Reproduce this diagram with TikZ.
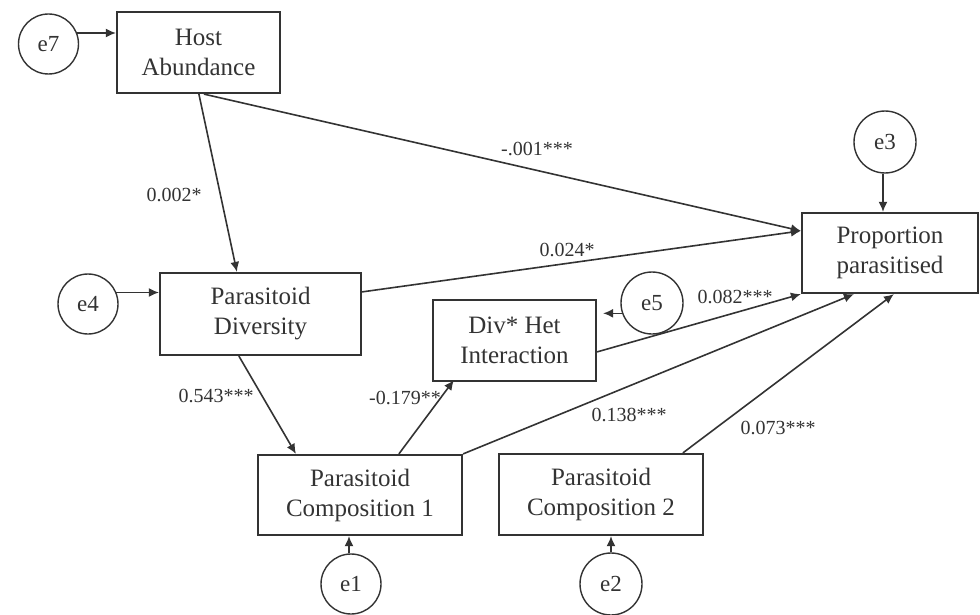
\documentclass[tikz,border=0pt]{standalone}
\usepackage{fontspec}
\setmainfont{Liberation Serif}
\usetikzlibrary{arrows.meta,calc}
\definecolor{ink}{HTML}{333333}
\begin{document}
\begin{tikzpicture}[x=1pt,y=-1pt,
  box/.style={draw=ink,line width=2.2pt,rectangle,align=center,inner sep=0pt,
    font=\fontsize{25}{30}\selectfont,text=ink},
  err/.style={draw=ink,line width=1.4pt,circle,minimum size=60pt,inner sep=0pt,
    font=\fontsize{23}{26}\selectfont,text=ink},
  arr/.style={draw=ink,line width=1.6pt,-{Latex[length=10pt,width=9pt]}},
  lab/.style={font=\fontsize{20}{23}\selectfont,text=ink,inner sep=0pt}]
\useasboundingbox (0,0) rectangle (980,615);
% boxes
\node[box,minimum width=163pt,minimum height=81pt] (host) at (198.5,52.5) {Host\\Abundance};
\node[box,minimum width=201pt,minimum height=82pt] (div) at (260.5,314) {Parasitoid\\Diversity};
\node[box,minimum width=163pt,minimum height=81pt] (divhet) at (514.5,340.5) {Div* Het\\Interaction};
\node[box,minimum width=176pt,minimum height=80pt] (prop) at (890,253) {Proportion\\parasitised};
\node[box,minimum width=204pt,minimum height=80pt] (comp1) at (360,495) {Parasitoid\\Composition 1};
\node[box,minimum width=204pt,minimum height=81pt] (comp2) at (601,494.5) {Parasitoid\\Composition 2};
% error terms
\node[err] (e7) at (48.5,44) {e7};
\node[err] (e4) at (88,304) {e4};
\node[err,minimum size=62pt] (e5) at (652,303) {e5};
\node[err,minimum size=62pt] (e3) at (885,142) {e3};
\node[err] (e1) at (351,584) {e1};
\node[err,minimum size=62pt] (e2) at (611,584) {e2};
% error arrows
\draw[arr] (e7.21) -- (e7.21 -| host.west);
\draw[arr] (e4.22) -- (e4.22 -| div.west);
\draw[arr] (e5.199) -- ($(e5.199 -| divhet.east)+(6,0)$);
\draw[arr] ($(e3.south)+(-2,0)$) -- ($(e3.south |- prop.north)+(-2,0)$);
\draw[arr] ($(e1.north)+(-2,0)$) -- ($(e1.north |- comp1.south)+(-2,0)$);
\draw[arr] (e2.north) -- (e2.north |- comp2.south);
% paths
\coordinate (pin) at ($(prop.north west)+(0,19)$);
\draw[arr] ($(host.south west)+(83,0)$) -- ($(div.north west)+(78,0)$);
\draw[arr] ($(host.south west)+(88,0)$) -- (pin);
\draw[arr] ($(div.north east)+(0,20)$) -- (pin);
\draw[arr] ($(div.south west)+(80,0)$) -- ($(comp1.north west)+(39,0)$);
\draw[arr] ($(comp1.north west)+(142,0)$) -- ($(divhet.south west)+(22,-2)$);
\draw[arr] ($(divhet.north east)+(0,53)$) -- (prop.south west);
\draw[arr] (comp1.north east) -- ($(prop.south west)+(53,0)$);
\draw[arr] ($(comp2.north west)+(185,0)$) -- ($(prop.south west)+(93,0)$);
% labels
\node[lab] (l1) at (174,195) {0.002*};
\node[lab] (l2) at (537,149) {-.001***};
\node[lab] (l3) at (567,250) {0.024*};
\node[lab] (l4) at (735,297) {0.082***};
\node[lab] (l5) at (216,396) {0.543***};
\node[lab] (l6) at (405,398) {-0.179**};
\node[lab] (l7) at (629,415) {0.138***};
\node[lab] (l8) at (778,428) {0.073***};
\end{tikzpicture}
\end{document}
